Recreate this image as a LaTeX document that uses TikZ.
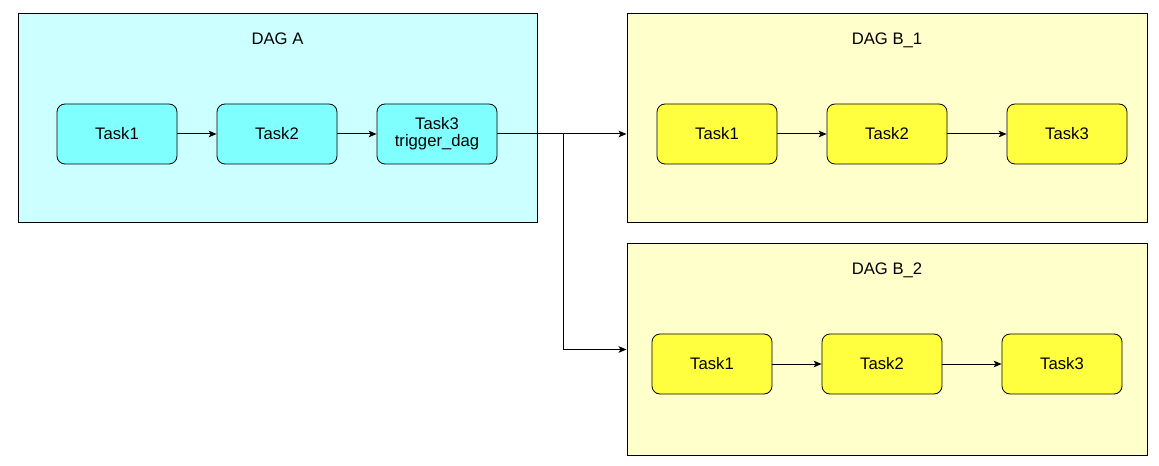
\documentclass[tikz,border=0pt]{standalone}
\usepackage{fontspec}
\setmainfont{Liberation Sans}
\usepackage{tikz}
\usetikzlibrary{shapes,arrows.meta}
\definecolor{dagCY}{RGB}{204,255,255}
\definecolor{dagYL}{RGB}{255,255,204}
\definecolor{taskCY}{RGB}{128,255,255}
\definecolor{taskYL}{RGB}{255,255,64}
\tikzstyle{groupCY} = [rectangle, draw, line width=0.75pt, fill=dagCY, minimum width=389.25pt, minimum height=156.75pt, inner sep=0pt]
\tikzstyle{groupYL} = [rectangle, draw, line width=0.75pt, fill=dagYL, minimum width=390pt, inner sep=0pt]
\tikzstyle{blockCY} = [rectangle, draw, line width=0.6pt, fill=taskCY, text centered, align=center, rounded corners=6pt, minimum width=90pt, minimum height=45pt, inner sep=0pt]
\tikzstyle{blockYL} = [rectangle, draw, line width=0.6pt, fill=taskYL, text centered, rounded corners=6pt, minimum width=90pt, minimum height=45pt, inner sep=0pt]
\tikzstyle{title} = [anchor=base, inner sep=0pt]
\tikzstyle{line} = [draw, line width=0.75pt, -{Stealth[length=6pt, width=5pt, inset=1.5pt]}]

\begin{document}
\begin{tikzpicture}[x=0.75pt, y=-0.75pt, auto,
  % mismo tamaño de letra en todo el dibujo
  font=\fontsize{12.5}{14}\selectfont
  ]
    \useasboundingbox (0,0) rectangle (1159,466);

    % grupos
    \node [groupCY] (dagA) at (277.5,118.5) {};
    \node [groupYL, minimum height=156.75pt] (dagB1) at (887,118.5) {};
    \node [groupYL, minimum height=158.25pt] (dagB2) at (887,349.5) {};
    \node [title] (dagA_title) at ([yshift=-23.25pt]dagA.north) {DAG A};
    \node [title] (dagB1_title) at ([yshift=-23.25pt]dagB1.north) {DAG B\_1};
    \node [title] (dagB2_title) at ([yshift=-23.25pt]dagB2.north) {DAG B\_2};

    % nodes
    \node [blockCY] (a_t1) at (117,134) {Task1};
    \node [blockCY, right of = a_t1, node distance = 120pt] (a_t2) {Task2};
    \node [blockCY, right of = a_t2, node distance = 120pt] (a_t3) {Task3\\[-1pt]trigger\_dag};

    \node [blockYL] (b1_t1) at (717,134) {Task1};
    \node [blockYL, right of = b1_t1, node distance = 127.5pt] (b1_t2) {Task2};
    \node [blockYL, right of = b1_t2, node distance = 135pt] (b1_t3) {Task3};

    \node [blockYL] (b2_t1) at (712,364) {Task1};
    \node [blockYL, right of = b2_t1, node distance = 127.5pt] (b2_t2) {Task2};
    \node [blockYL, right of = b2_t2, node distance = 135pt] (b2_t3) {Task3};

    \coordinate (split) at (563,134);

    % edges
    \path [line] (a_t1) -- (a_t2);
    \path [line] (a_t2) -- (a_t3);
    \path [line] (a_t3) -- (a_t3 -| dagB1.west);
    \path [line] (split) |- (dagB2);
    \path [line] (b1_t1) -- (b1_t2);
    \path [line] (b1_t2) -- (b1_t3);
    \path [line] (b2_t1) -- (b2_t2);
    \path [line] (b2_t2) -- (b2_t3);

  \end{tikzpicture}
\end{document}
